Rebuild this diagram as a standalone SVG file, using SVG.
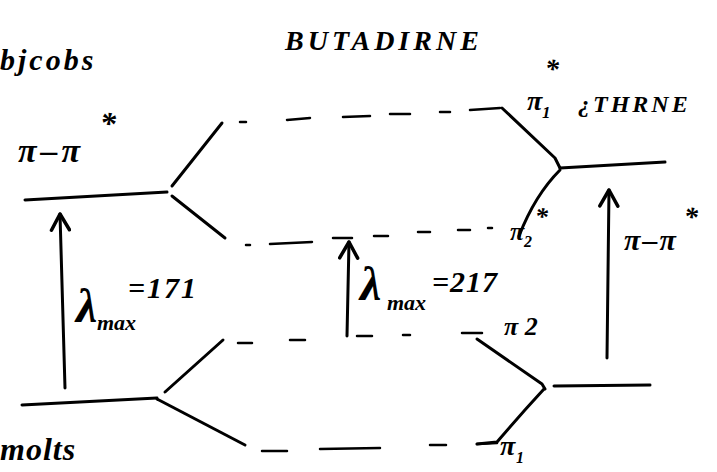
<svg xmlns="http://www.w3.org/2000/svg" width="717" height="472" viewBox="0 0 717 472">
  <style>
    .ln { fill: none; stroke: #000; stroke-width: 3; stroke-linecap: round; stroke-linejoin: round; }
    .dash { fill: none; stroke: #000; stroke-width: 2.5; stroke-linecap: round; }
    .hand { font-family: "Liberation Serif", "DejaVu Serif", serif; font-style: italic; font-weight: bold; fill: #000; }
  </style>
  <defs>
    <marker id="head" viewBox="0 0 22 22" refX="20" refY="11" markerWidth="22" markerHeight="22" markerUnits="userSpaceOnUse" orient="auto">
      <path d="M4,2 L20,11 L4,20" fill="none" stroke="#000" stroke-width="3.5" stroke-linecap="round" stroke-linejoin="round"/>
    </marker>
  </defs>
  <rect width="717" height="472" fill="#fff"/>

  <!-- titles -->
  <text class="hand" x="285" y="50" font-size="28" letter-spacing="4">BUTADIRNE</text>
  <text class="hand" x="0" y="70" font-size="30" letter-spacing="3">bjcobs</text>
  <text class="hand" x="0" y="460" font-size="32" letter-spacing="1">molts</text>

  <!-- ethene, left (isolated) -->
  <g id="ethene-left">
    <path class="ln" d="M25,200 L167,192"/>
    <path class="ln" d="M172,186 L222,123"/>
    <path class="ln" d="M172,196 L225,238"/>
    <path class="ln" d="M22,405 L157,398"/>
    <path class="ln" d="M165,392 L223,340"/>
    <path class="ln" d="M157,399 L245,445"/>
    <text class="hand" x="18" y="162" font-size="34" letter-spacing="4">π–π</text>
    <text class="hand" x="100" y="134" font-size="32">*</text>
  </g>

  <!-- ethene, right -->
  <g id="ethene-right">
    <path class="ln" d="M502,108 L555,158 L560,168"/>
    <path class="ln" d="M560,168 L665,162"/>
    <path class="ln" d="M560,170 Q535,195 519,236"/>
    <path class="ln" d="M477,339 L542,384 L545,389"/>
    <path class="ln" d="M544,389 Q520,415 497,442 L477,444"/>
    <path class="ln" d="M554,386 L650,385"/>
    <text class="hand" x="527" y="110" font-size="28">π</text>
    <text class="hand" x="542" y="118" font-size="17">1</text>
    <text class="hand" x="545" y="78" font-size="28">*</text>
    <text class="hand" x="578" y="112" font-size="24" letter-spacing="3">¿THRNE</text>
    <text class="hand" x="510" y="240" font-size="26">π</text>
    <text class="hand" x="524" y="247" font-size="16">2</text>
    <text class="hand" x="535" y="225" font-size="26">*</text>
    <text class="hand" x="504" y="335" font-size="26">π 2</text>
    <text class="hand" x="500" y="455" font-size="28">π</text>
    <text class="hand" x="516" y="463" font-size="16">1</text>
  </g>

  <!-- butadiene levels (dashed) and transition arrows -->
  <g id="connectors">
    <path class="dash" d="M240,122 L246,122 M287,120 L310,118 M343,117 L370,116 M390,114 L410,114 M440,112 L450,112 M470,110 L500,108"/>
    <path class="dash" d="M246,245 L250,245 M270,244 L312,242 M333,238 L352,238 M374,236 L388,236 M418,232 L430,232 M458,230 L470,230 M488,228 L492,228"/>
    <path class="dash" d="M238,343 L252,343 M290,340 L305,340 M357,336 L372,336 M403,335 L410,335 M462,333 L482,333"/>
    <path class="dash" d="M262,451 L287,451 M320,449 L380,448 M430,445 L446,445 M477,444 L497,443"/>
    <path class="ln" d="M65,388 L60,214" marker-end="url(#head)"/>
    <path class="ln" d="M347,336 L349,242" marker-end="url(#head)"/>
    <path class="ln" d="M607,358 L609,190" marker-end="url(#head)"/>
  </g>

  <!-- transition labels -->
  <text class="hand" x="76" y="322" font-size="48">λ</text>
  <text class="hand" x="97" y="330" font-size="22">max</text>
  <text class="hand" x="128" y="298" font-size="30" letter-spacing="2">=171</text>
  <text class="hand" x="360" y="300" font-size="48">λ</text>
  <text class="hand" x="387" y="310" font-size="22">max</text>
  <text class="hand" x="432" y="292" font-size="30" letter-spacing="1">=217</text>
  <text class="hand" x="624" y="250" font-size="30" letter-spacing="2">π–π</text>
  <text class="hand" x="684" y="226" font-size="28">*</text>
</svg>
